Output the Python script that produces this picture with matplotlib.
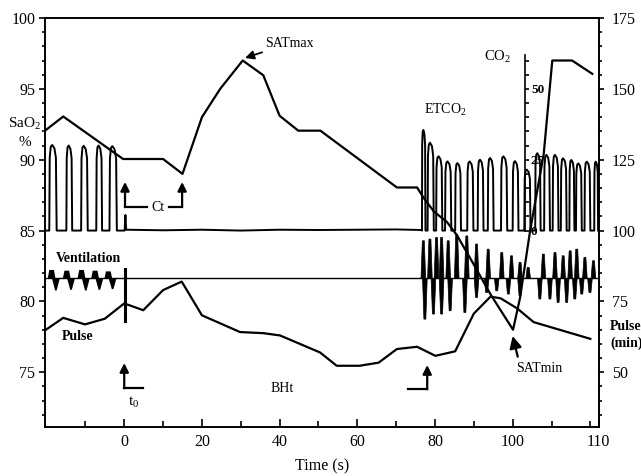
import numpy as np
import matplotlib
matplotlib.use("Agg")
import matplotlib.pyplot as plt

plt.rcParams['font.family'] = ['Liberation Serif', 'DejaVu Serif']
plt.rcParams['mathtext.fontset'] = 'custom'
plt.rcParams['mathtext.rm'] = 'Liberation Serif'

# SaO2 (%) - left axis
sat_t = [-20.4, -15.7, -0.3, 10.0, 15.0, 20.0, 24.7, 30.5, 35.8, 40.0, 44.8, 50.5,
         70.2, 75.4, 77.1, 79.7, 83.1, 85.7, 90.0, 94.3, 100.1, 101.9, 104.5, 108.0,
         110.2, 115.3, 120.5]
sat_v = [92.05, 93.05, 90.05, 90.05, 89.0, 93.0, 95.0, 97.0, 95.96, 93.1, 92.05, 92.05,
         88.04, 88.04, 87.3, 86.35, 85.6, 84.65, 82.6, 80.5, 78.0, 80.25, 85.0, 90.4,
         97.0, 97.0, 96.06]

# Pulse (min-1) - right axis
pulse_t = [-20.4, -15.7, -10.1, -5.0, 0.0, 4.9, 10.0, 14.8, 20.0, 29.8, 35.8, 40.1,
           50.4, 54.7, 60.6, 65.5, 70.2, 75.4, 80.1, 85.2, 90.0, 94.3, 96.9, 101.2,
           105.4, 120.0]
pulse_v = [64.8, 69.2, 66.9, 68.9, 74.3, 71.9, 79.0, 82.0, 70.1, 64.2, 63.8, 63.0,
           57.0, 52.3, 52.3, 53.4, 58.2, 59.0, 55.8, 57.4, 70.7, 76.7, 76.1, 72.5,
           67.7, 61.8]

# ETCO2 waveform (CO2 scale): pulse starts, widths, peaks
co2_start_pre = [-19.3, -14.9, -11.1, -7.2, -3.8]
co2_width_pre = [1.9, 1.5, 1.7, 1.5, 1.9]
co2_peak_pre = [30.2, 30.0, 29.9, 30.0, 29.8]
co2_mid_t = [0.1, 0.3, 0.5, 10.0, 20.0, 30.0, 40.0, 50.0, 60.0, 70.0, 76.4]
co2_mid_v = [0.0, 5.5, 0.3, 0.1, 0.3, 0.0, 0.3, 0.2, 0.3, 0.4, 0.2]
co2_start_post = [76.65, 78.1, 80.3, 82.6, 85.2, 88.3, 91.0, 93.6, 97.0, 100.0,
                  103.0, 105.8, 108.1, 110.3, 112.4, 114.6, 116.3, 118.5, 121.0]
co2_width_post = [0.9, 1.6, 1.6, 1.6, 1.5, 1.6, 1.5, 1.5, 1.6, 1.5,
                  1.6, 1.4, 1.5, 1.5, 1.5, 1.3, 1.5, 1.5, 1.0]
co2_peak_post = [35.5, 31.0, 26.2, 24.4, 23.8, 24.4, 25.0, 25.6, 26.2, 24.5,
                 21.5, 27.3, 26.7, 26.7, 25.5, 24.9, 23.7, 24.3, 24.3]

# Ventilation trace (left axis units, around a baseline)
vent_base = 81.62
vent_pre_t = [-18.7, -14.8, -11.0, -7.5, -4.1]
vent_pre_up = [0.6, 0.55, 0.6, 0.55, 0.5]
vent_pre_down = [0.85, 0.8, 0.85, 0.8, 0.75]
vent_t0_up, vent_t0_down = 0.65, 3.0
vent_up_t = [77.0, 78.7, 80.4, 81.7, 83.4, 85.6, 88.2, 90.7, 93.7, 97.2, 99.7, 101.9,
             104.0, 107.9, 110.9, 113.0, 114.8, 116.5, 118.6, 120.8]
vent_up_a = [2.66, 2.78, 2.89, 2.89, 2.66, 3.1, 3.0, 2.43, 2.07, 1.83, 1.6, 1.13,
             0.78, 1.72, 1.83, 1.6, 1.95, 2.07, 1.48, 1.25]
vent_dn_t = [77.4, 79.6, 81.7, 83.9, 87.7, 90.7, 93.3, 95.9, 98.9, 101.9, 107.0, 109.6,
             111.7, 113.9, 116.0, 117.8, 119.9]
vent_dn_a = [2.87, 2.51, 2.51, 2.28, 2.4, 1.34, 0.99, 0.87, 1.1, 1.22, 1.45, 1.45,
             1.69, 1.69, 1.45, 1.1, 0.99]

x_min, x_max = -20.4, 122.1
x_major = [0, 20, 40, 60, 80, 100, x_max]
x_labels = ['0', '20', '40', '60', '80', '100', '110']
x_minor = [-10, 10, 30, 50, 70, 90, 110, 120]


def pulse_trace(starts, widths, peaks):
    xs, ys = [], []
    for s, w, p in zip(starts, widths, peaks):
        xs += [s, s + 0.06 * w, s + 0.2 * w, s + 0.4 * w, s + 0.7 * w, s + 0.9 * w, s + w]
        ys += [0, 0.85 * p, 0.98 * p, p, 0.96 * p, 0.85 * p, 0]
    return xs, ys


fig = plt.figure(figsize=(6.41, 4.76), dpi=100)
ax = fig.add_axes([45 / 641, 1 - 426.7 / 476, 553.5 / 641, 408.7 / 476])
axr = ax.twinx()
axc = ax.twinx()

ax.set_xlim(x_min, x_max)
ax.set_ylim(71.16, 100)
axr.set_ylim(30.8, 175)
axc.set_ylim(-69.2, 75)
axc.axis('off')

# SaO2 and pulse
ax.plot(sat_t, sat_v, color='k', lw=1.6)
axr.plot(pulse_t, pulse_v, color='k', lw=1.6)

# ETCO2 waveform
xa, ya = pulse_trace(co2_start_pre, co2_width_pre, co2_peak_pre)
xb, yb = pulse_trace(co2_start_post, co2_width_post, co2_peak_post)
co2_x = [x_min] + xa + co2_mid_t + xb
co2_y = [0] + ya + co2_mid_v + yb
axc.plot(co2_x, co2_y, color='k', lw=1.4)

# ventilation
ax.plot([x_min, x_max], [vent_base, vent_base], color='k', lw=1.0)
for t, up, dn in zip(vent_pre_t, vent_pre_up, vent_pre_down):
    ax.fill([t - 1.0, t - 0.6, t + 0.6, t + 1.0], [vent_base, vent_base + up, vent_base + up, vent_base],
            color='k', lw=0)
    ax.fill([t + 0.1, t + 0.9, t + 1.3, t + 2.1], [vent_base, vent_base - dn, vent_base - dn, vent_base],
            color='k', lw=0)
ax.plot([0.2, 0.2], [vent_base + vent_t0_up, vent_base - vent_t0_down], color='k', lw=2.2)
for t, a in zip(vent_up_t, vent_up_a):
    ax.fill([t - 0.6, t - 0.25, t + 0.25, t + 0.6], [vent_base, vent_base + a, vent_base + a, vent_base],
            color='k', lw=0.5)
for t, a in zip(vent_dn_t, vent_dn_a):
    ax.fill([t - 0.6, t - 0.25, t + 0.25, t + 0.6], [vent_base, vent_base - a, vent_base - a, vent_base],
            color='k', lw=0.5)

# axes styling
for a in (ax, axr):
    for s in a.spines.values():
        s.set_linewidth(1.2)
ax.set_xticks(x_major)
ax.set_xticklabels(x_labels)
ax.set_xticks(x_minor, minor=True)
ax.set_yticks([75, 80, 85, 90, 95, 100])
ax.set_yticks(np.arange(72, 100, 1), minor=True)
axr.set_yticks([50, 75, 100, 125, 150, 175])
axr.set_yticks(np.arange(35, 175, 5), minor=True)
ax.tick_params(axis='x', which='major', direction='in', length=5.5, width=1.2, labelsize=11.5, pad=5)
ax.tick_params(axis='x', which='minor', direction='in', length=4, width=1.2)
ax.tick_params(axis='y', which='major', direction='out', length=4, width=1.2, labelsize=11.5, pad=3)
ax.tick_params(axis='y', which='minor', direction='out', length=2, width=1.2)
axr.tick_params(axis='y', which='major', direction='out', length=3.5, width=1.2, labelsize=11.5, pad=6)
axr.tick_params(axis='y', which='minor', direction='out', length=2, width=1.2)
ax.set_xlabel('Time (s)', fontsize=11.5, labelpad=6)

# inner CO2 axis
co2ax = axc.inset_axes([103.2, 0, 1.5, 61.9], transform=axc.transData)
co2ax.set_ylim(0, 61.9)
co2ax.patch.set_visible(False)
for k in ('right', 'top', 'bottom'):
    co2ax.spines[k].set_visible(False)
co2ax.spines['left'].set_linewidth(1.2)
co2ax.set_xticks([])
co2ax.set_yticks([0, 25, 50])
co2ax.set_yticklabels(['0', '25', '50'], fontweight='bold')
co2ax.set_yticks(np.arange(5, 61, 5), minor=True)
co2ax.tick_params(axis='y', which='both', direction='in', left=True, right=False,
                  labelleft=False, labelright=True, length=3, width=1.2, labelsize=9.5, pad=0)

# annotations
arrow = dict(arrowstyle='-|>', color='k', lw=1.6, mutation_scale=13, shrinkA=0, shrinkB=0)
ax.annotate('SATmax', xy=(31.1, 97.18), xytext=(36.2, 98.21), fontsize=10,
            va='center', ha='left', arrowprops=dict(arrow, lw=1.3))
ax.annotate('', xy=(0.2, 88.43), xytext=(0.2, 86.66), arrowprops=arrow)
ax.plot([0.2, 5.8], [86.66, 86.66], color='k', lw=1.6)
ax.text(8.6, 86.66, 'Ct', fontsize=10, va='center', ha='center')
ax.annotate('', xy=(14.9, 88.43), xytext=(14.9, 86.66), arrowprops=arrow)
ax.plot([11.6, 14.9], [86.66, 86.66], color='k', lw=1.6)

ax.annotate('', xy=(0.0, 75.65), xytext=(0.0, 73.87), arrowprops=arrow)
ax.plot([0.0, 4.9], [73.87, 73.87], color='k', lw=1.6)
ax.text(2.4, 72.85, r'$\mathregular{t_0}$', fontsize=11, ha='center', va='center')
ax.annotate('', xy=(78.0, 75.51), xytext=(78.0, 73.8), arrowprops=arrow)
ax.plot([73.1, 78.0], [73.8, 73.8], color='k', lw=1.6)
ax.text(40.7, 73.87, 'BHt', fontsize=10, ha='center', va='center')

ax.annotate('', xy=(100.0, 77.56), xytext=(101.3, 76.1),
            arrowprops=dict(arrow, mutation_scale=18))
ax.text(100.8, 75.25, 'SATmin', fontsize=10, ha='left', va='center')
ax.text(82.6, 93.5, r'ETCO$_2$', fontsize=10, ha='center', va='center')
ax.text(96.2, 97.25, r'CO$_2$', fontsize=10.5, ha='center', va='center')
ax.text(-9.1, 83.06, 'Ventilation', fontsize=10, fontweight='bold', ha='center', va='center')
ax.text(-11.9, 77.56, 'Pulse', fontsize=10, fontweight='bold', ha='center', va='center')

fig.text(25 / 641, 1 - 124 / 476, r'SaO$_2$', fontsize=11, ha='center', va='center')
fig.text(25 / 641, 1 - 142 / 476, '%', fontsize=11, ha='center', va='center')
fig.text(610 / 641, 1 - 327 / 476, 'Pulse', fontsize=10, fontweight='bold', ha='left', va='center')
fig.text(610 / 641, 1 - 343 / 476, '(min)', fontsize=10, fontweight='bold', ha='left', va='center')

fig.savefig('out.png', dpi=100)
